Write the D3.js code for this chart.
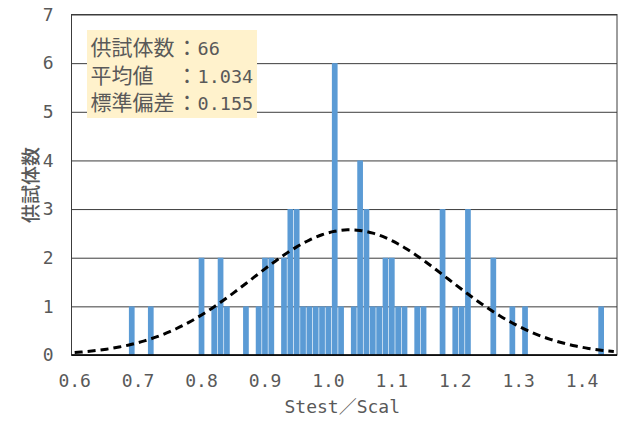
<!DOCTYPE html>
<html>
<head>
<meta charset="utf-8">
<script src="https://cdn.jsdelivr.net/npm/d3@7"></script>
<style>
  body { margin: 0; background: #fff; }
  svg { display: block; }
</style>
</head>
<body>
<svg id="chart" width="619" height="421"></svg>
<script>
// Histogram of Stest/Scal ratios, 0.01-wide classes (only non-empty classes listed)
const binLabels = ["0.69", "0.72", "0.80", "0.82", "0.83", "0.84", "0.87", "0.89", "0.90", "0.91",
                   "0.93", "0.94", "0.95", "0.96", "0.97", "0.98", "0.99", "1.00", "1.01", "1.02",
                   "1.04", "1.05", "1.06", "1.07", "1.08", "1.09", "1.10", "1.11", "1.12", "1.14",
                   "1.15", "1.18", "1.20", "1.21", "1.22", "1.26", "1.29", "1.31", "1.43"];
const binCounts = [1, 1, 2, 1, 2, 1, 1, 1, 2, 2,
                   2, 3, 3, 1, 1, 1, 1, 1, 6, 1,
                   1, 4, 3, 1, 1, 2, 2, 1, 1, 1,
                   1, 3, 1, 1, 3, 2, 1, 1, 1];

// Summary statistics shown in the note box
const statNames = ["供試体数", "平均値", "標準偏差"];
const statValues = ["66", "1.034", "0.155"];
const meanRatio = 1.034;
const sdRatio = 0.155;

// Axis labels
const xTickLabels = ["0.6", "0.7", "0.8", "0.9", "1.0", "1.1", "1.2", "1.3", "1.4"];
const yTickValues = [0, 1, 2, 3, 4, 5, 6, 7];
const xTitle = "Stest／Scal";
const yTitle = "供試体数";

// Layout
const W = 619, H = 421;
const plot = { left: 71.5, right: 617, top: 14.5, bottom: 355 };
const numFont = "'DejaVu Sans Mono', monospace";
const cjkFont = "'Noto Sans CJK JP', sans-serif";
const textGray = "#595959";

const svg = d3.select("#chart");

// Category axis: one class per 0.01 from 0.60 to 1.45
const categories = d3.range(60, 146).map(k => (k / 100).toFixed(2));
const x = d3.scaleBand()
  .domain(categories)
  .range([plot.left, plot.right])
  .paddingInner(0.1)
  .paddingOuter(0.05);
const xc = c => x(c) + x.bandwidth() / 2;

const y = d3.scaleLinear().domain([0, 7]).range([plot.bottom, plot.top]);

// Horizontal gridlines
svg.append("g")
  .attr("transform", `translate(${plot.left},0)`)
  .call(d3.axisLeft(y).tickValues(yTickValues).tickSize(-(plot.right - plot.left)).tickFormat(""))
  .call(g => g.select(".domain").remove())
  .call(g => g.selectAll("line").attr("stroke", "#3c3c3c").attr("stroke-width", 1));

// Bars
const bins = binLabels.map((c, i) => ({ cat: c, count: binCounts[i] }));
svg.append("g")
  .selectAll("rect")
  .data(bins)
  .join("rect")
  .attr("x", d => x(d.cat))
  .attr("width", x.bandwidth())
  .attr("y", d => y(d.count))
  .attr("height", d => y(0) - y(d.count))
  .attr("fill", "#5B9BD5");

// Plot-area frame
svg.append("rect")
  .attr("x", plot.left).attr("y", plot.top)
  .attr("width", plot.right - plot.left).attr("height", plot.bottom - plot.top)
  .attr("fill", "none").attr("stroke", "#3c3c3c").attr("stroke-width", 1);
svg.append("line")
  .attr("x1", plot.left).attr("x2", plot.right)
  .attr("y1", plot.bottom).attr("y2", plot.bottom)
  .attr("stroke", "#000").attr("stroke-width", 1.3);

// Normal density curve with the stated mean and standard deviation
const density = v => Math.exp(-0.5 * Math.pow((v - meanRatio) / sdRatio, 2)) / (sdRatio * Math.sqrt(2 * Math.PI));
const curvePts = categories.map(c => ({ cat: c, dens: density(+c) }));
svg.append("path")
  .datum(curvePts)
  .attr("fill", "none")
  .attr("stroke", "#000")
  .attr("stroke-width", 3)
  .attr("stroke-dasharray", "8,5")
  .attr("d", d3.line().x(d => xc(d.cat)).y(d => y(d.dens)).curve(d3.curveMonotoneX));

// Y axis labels
svg.append("g")
  .attr("transform", `translate(${plot.left},0)`)
  .call(d3.axisLeft(y).tickValues(yTickValues).tickSize(0).tickPadding(18).tickFormat(d3.format("d")))
  .call(g => g.select(".domain").remove())
  .call(g => g.selectAll("text")
    .attr("font-family", numFont).attr("font-size", 18).attr("fill", textGray));

// X axis labels
const labelCat = new Map(xTickLabels.map(l => [(+l).toFixed(2), l]));
svg.append("g")
  .attr("transform", `translate(0,${plot.bottom})`)
  .call(d3.axisBottom(x).tickValues([...labelCat.keys()]).tickSize(0).tickFormat(c => labelCat.get(c)))
  .call(g => g.select(".domain").remove())
  .call(g => g.selectAll("text")
    .attr("y", 31.7).attr("dy", 0)
    .attr("font-family", numFont).attr("font-size", 18).attr("fill", textGray));

// Axis titles
svg.append("text")
  .attr("x", (plot.left + plot.right) / 2 - 2)
  .attr("y", 413)
  .attr("text-anchor", "middle")
  .attr("font-family", numFont + ", " + cjkFont)
  .attr("font-size", 18)
  .attr("fill", textGray)
  .text(xTitle);

svg.append("text")
  .attr("transform", "translate(38,185) rotate(-90)")
  .attr("text-anchor", "middle")
  .attr("font-family", cjkFont)
  .attr("font-size", 19)
  .attr("font-weight", 500)
  .attr("fill", textGray)
  .text(yTitle);

// Statistics note box
const note = svg.append("g");
note.append("rect")
  .attr("x", 87).attr("y", 30).attr("width", 170).attr("height", 88)
  .attr("fill", "#FFF2CC");
const rows = note.selectAll("text")
  .data(statNames.map((n, i) => ({ name: n, value: statValues[i] })))
  .join("text")
  .attr("y", (d, i) => 55 + i * 27.5)
  .attr("fill", textGray);
rows.append("tspan")
  .attr("x", 90.5).attr("font-family", cjkFont).attr("font-size", 21)
  .text(d => d.name);
rows.append("tspan")
  .attr("x", 176.5).attr("font-family", cjkFont).attr("font-size", 21)
  .text("：");
rows.append("tspan")
  .attr("x", 197.5).attr("font-family", numFont).attr("font-size", 18.5)
  .text(d => d.value);
</script>
</body>
</html>
